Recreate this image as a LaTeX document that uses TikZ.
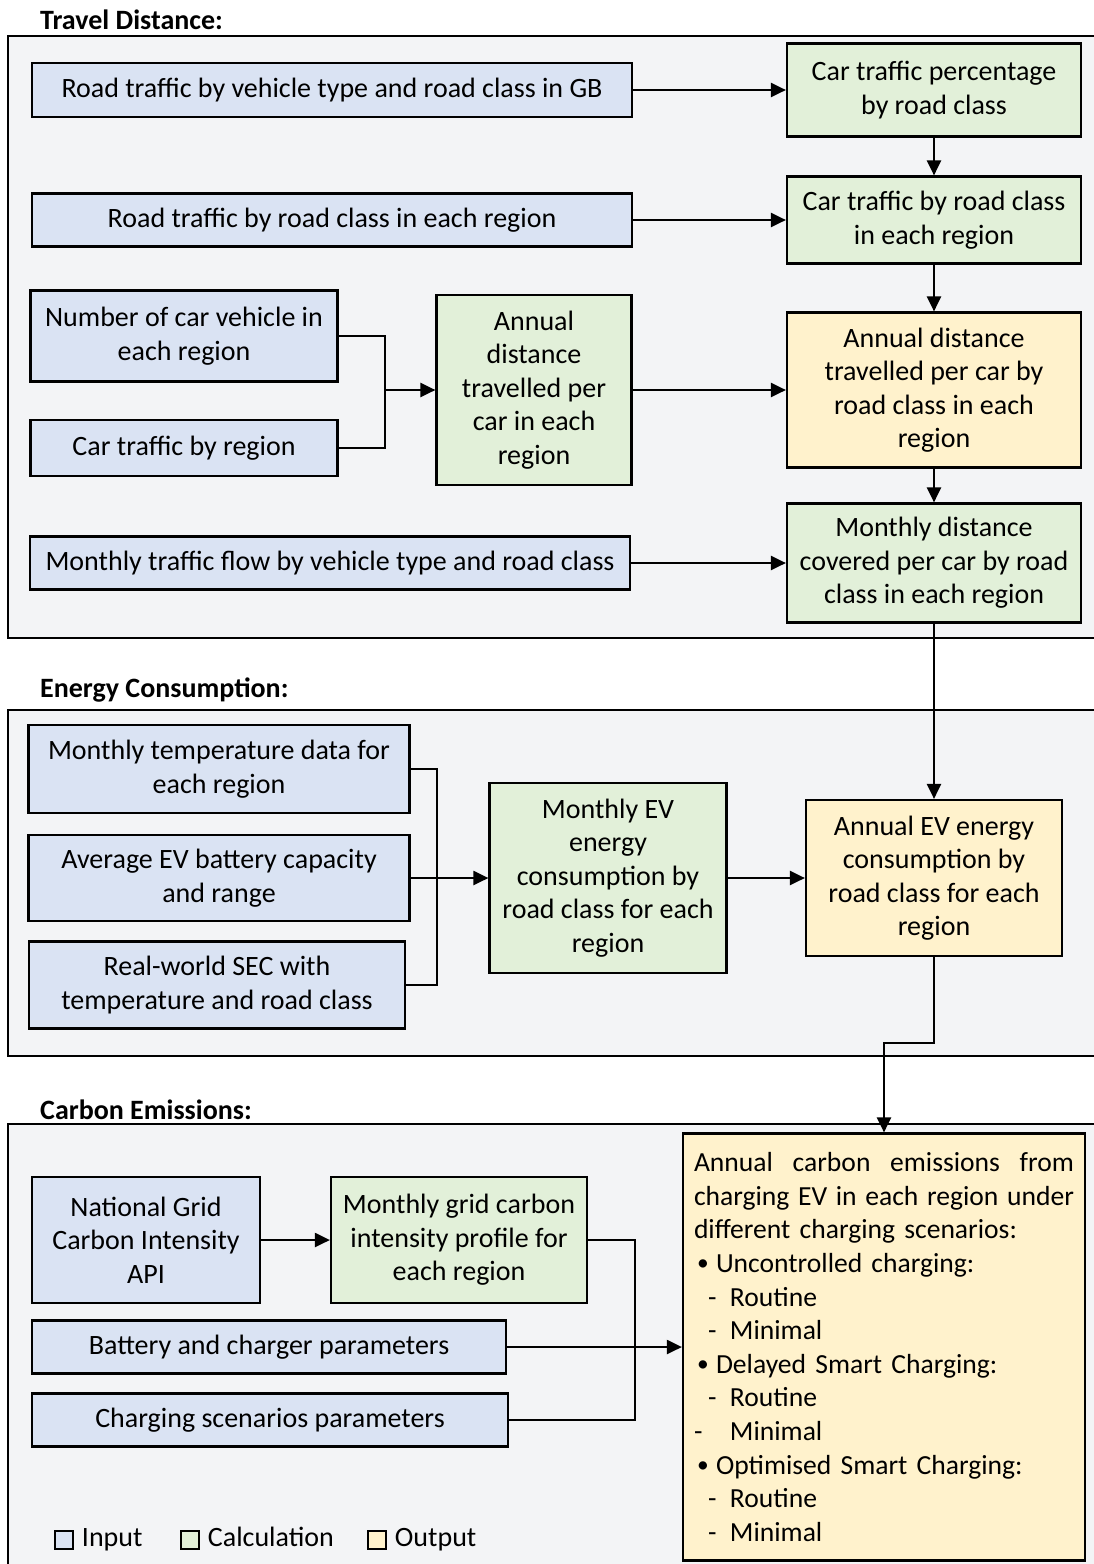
\documentclass[tikz,border=0pt]{standalone}
\usepackage{fontspec}
\setmainfont{Carlito}
\usetikzlibrary{positioning,arrows.meta}
\definecolor{inputblue}{HTML}{DAE3F3}
\definecolor{calcgreen}{HTML}{E2F0D9}
\definecolor{outyellow}{HTML}{FFF2CC}
\definecolor{panelgray}{HTML}{F3F4F6}
\newcommand{\bodyfont}{\fontsize{28pt}{33.5pt}\selectfont}
\newcommand{\listfont}{\fontsize{27.6pt}{33.6pt}\selectfont}
\newcommand{\smallbullet}{\raisebox{2pt}{\scalebox{0.85}{•}}}
\tikzset{
    box/.style={draw=black, line width=2.2pt, align=center, inner sep=3pt, font=\bodyfont},
    inbox/.style={box, fill=inputblue},
    calcbox/.style={box, fill=calcgreen},
    outbox/.style={box, fill=outyellow},
    panel/.style={draw=black, line width=2pt, fill=panelgray},
    paneltitle/.style={anchor=west, inner sep=0pt, font=\bodyfont\bfseries},
    flow/.style={black, line width=2.2pt, -{Triangle[length=15pt,width=14pt]}},
    joint/.style={black, line width=1.7pt},
    legbox/.style={draw=black, line width=1.5pt, minimum size=18pt, inner sep=0pt},
    legtext/.style={font=\bodyfont, inner sep=0pt, text height=19pt, text depth=6pt}
}

\begin{document}
\begin{tikzpicture}[x=1pt, y=-1pt]
    \useasboundingbox (0,0) rectangle (1094,1564);
    \clip (0,0) rectangle (1094,1564);

    \draw [panel] (8,36) rectangle (1098,638);
    \draw [panel] (8,710) rectangle (1098,1056);
    \draw [panel] (8,1124) rectangle (1098,1570);
    \node [paneltitle] (titletravel) at (40,20) {Travel Distance:};
    \node [paneltitle] (titleenergy) at (40,690) {Energy Consumption:};
    \node [paneltitle] (titlecarbon) at (40,1110) {Carbon Emissions:};

    \node [inbox, minimum width=600pt, minimum height=54pt] (trafficgb) at (332,90) {Road traffic by vehicle type and road class in GB};
    \node [calcbox, minimum width=294pt, minimum height=93pt] (carpct) at (934,90) {Car traffic percentage\\by road class};
    \node [inbox, minimum width=600pt, minimum height=53pt] (trafficreg) at (332,220) {Road traffic by road class in each region};
    \node [calcbox, minimum width=294pt, minimum height=87pt] (carclass) at (934,220) {Car traffic by road class\\in each region};
    \node [inbox, minimum width=307pt, minimum height=91pt] (numcar) at (184,336) {Number of car vehicle in\\each region};
    \node [inbox, minimum width=307pt, minimum height=56pt] (cartraf) at (184,448) {Car traffic by region};
    \node [calcbox, minimum width=195pt, minimum height=190pt] (distcar) at (534,390) {Annual\\distance\\travelled per\\car in each\\region};
    \node [outbox, minimum width=294pt, minimum height=155pt] (distclass) at (934,390) {Annual distance\\travelled per car by\\road class in each\\region};
    \node [inbox, minimum width=600pt, minimum height=53pt] (monflow) at (330,563) {Monthly traffic flow by vehicle type and road class};
    \node [calcbox, minimum width=294pt, minimum height=119pt] (mondist) at (934,563) {Monthly distance\\covered per car by road\\class in each region};
    \coordinate (tdjoin) at (385,390);

    \node [inbox, minimum width=381pt, minimum height=88pt] (montemp) at (219,769) {Monthly temperature data for\\each region};
    \node [inbox, minimum width=381pt, minimum height=86pt] (avgbat) at (219,878) {Average EV battery capacity\\and range};
    \node [inbox, minimum width=376pt, minimum height=87pt] (realsec) at (217,985) {Real-world SEC with\\temperature and road class};
    \node [calcbox, minimum width=237pt, minimum height=190pt] (moncons) at (608,878) {Monthly EV\\energy\\consumption by\\road class for each\\region};
    \node [outbox, minimum width=256pt, minimum height=156pt] (annualcons) at (934,878) {Annual EV energy\\consumption by\\road class for each\\region};
    \coordinate (ecjoin) at (437,878);

    \node [inbox, minimum width=228pt, minimum height=126pt] (natgrid) at (146,1240) {National Grid\\Carbon Intensity\\API};
    \node [calcbox, minimum width=256pt, minimum height=126pt] (gridprof) at (459,1240) {Monthly grid carbon\\intensity profile for\\each region};
    \node [inbox, minimum width=474pt, minimum height=53pt] (batpar) at (269,1347) {Battery and charger parameters};
    \node [inbox, minimum width=476pt, minimum height=53pt] (scenpar) at (270,1420) {Charging scenarios parameters};
    \node [outbox, align=left, font=\listfont, text width=380pt, minimum width=402pt, minimum height=427pt, inner sep=11pt] (carbonout) at (884,1347)
        {\makebox[380pt][l]{Annual\hfill carbon\hfill emissions\hfill from}\\
         \makebox[380pt][l]{charging\hfill EV\hfill in\hfill each\hfill region\hfill under}\\
         different charging scenarios:\\
         \makebox[22pt][l]{\hspace*{3pt}\smallbullet}Uncontrolled charging:\\
         \makebox[36pt][l]{\hspace*{14pt}-}Routine\\
         \makebox[36pt][l]{\hspace*{14pt}-}Minimal\\
         \makebox[22pt][l]{\hspace*{3pt}\smallbullet}Delayed Smart Charging:\\
         \makebox[36pt][l]{\hspace*{14pt}-}Routine\\
         \makebox[36pt][l]{-}Minimal\\
         \makebox[22pt][l]{\hspace*{3pt}\smallbullet}Optimised Smart Charging:\\
         \makebox[36pt][l]{\hspace*{14pt}-}Routine\\
         \makebox[36pt][l]{\hspace*{14pt}-}Minimal};
    \coordinate (cejoin) at (635,1347);

    \node [legbox, fill=inputblue] (leginput) at (64,1540) {};
    \node [legtext, right=8pt of leginput] (leginputtext) {Input};
    \node [legbox, fill=calcgreen] (legcalc) at (190,1540) {};
    \node [legtext, right=8pt of legcalc] (legcalctext) {Calculation};
    \node [legbox, fill=outyellow] (legout) at (377,1540) {};
    \node [legtext, right=8pt of legout] (legouttext) {Output};

    \draw [flow] (trafficgb) -- (carpct);
    \draw [flow] (carpct) -- (carclass);
    \draw [flow] (trafficreg) -- (carclass);
    \draw [flow] (carclass) -- (distclass);
    \draw [joint] (numcar.east) -| (tdjoin);
    \draw [joint] (cartraf.east) -| (tdjoin);
    \draw [flow] (tdjoin) -- (distcar.west);
    \draw [flow] (distcar) -- (distclass);
    \draw [flow] (distclass) -- (mondist);
    \draw [flow] (monflow) -- (mondist.west |- monflow);
    \draw [flow] (mondist) -- (annualcons);

    \draw [joint] (montemp.east) -| (ecjoin);
    \draw [joint] (realsec.east) -| (ecjoin);
    \draw [flow] (avgbat.east) -- (moncons.west);
    \draw [flow] (moncons.east) -- (annualcons.west |- moncons.east);
    \draw [flow] (annualcons.south) -- ++(0,86) -| (carbonout.north);

    \draw [flow] (natgrid) -- (gridprof);
    \draw [joint] (gridprof.east) -| (cejoin);
    \draw [joint] (scenpar.east) -| (cejoin);
    \draw [flow] (batpar.east) -- (carbonout.west |- batpar.east);
\end{tikzpicture}
\end{document}
